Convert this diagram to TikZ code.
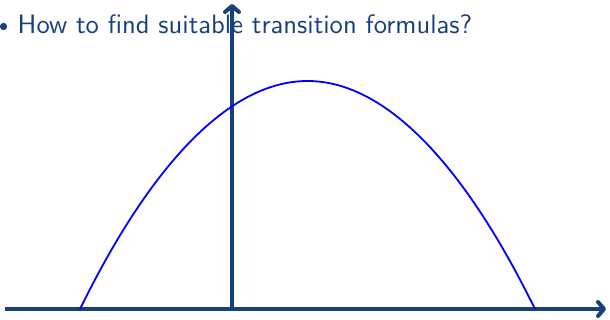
\documentclass[tikz,border=0pt]{standalone}
\usepackage{fontspec}
\usetikzlibrary{arrows.meta}
\newfontfamily\lmten{lmsans10-regular.otf}
\definecolor{navy}{RGB}{24,64,122}
\begin{document}
\begin{tikzpicture}[x=1pt,y=1pt,
  axis/.style={draw=navy,line width=4pt,-{Straight Barb[length=6pt,width=14pt,round]}},
  curve/.style={draw=blue,line width=1.8pt}]
\useasboundingbox (0,0) rectangle (610,320);
\fill[navy] (3.5,293.5) circle (3.6pt);
\node[anchor=base west,inner sep=0pt,text=navy,font=\lmten\fontsize{26.6}{30}\selectfont] (t) at (17.5,286) {How to find suitable transition formulas?};
\coordinate (xs) at (5,11);
\coordinate (xe) at (606,11);
\coordinate (ys) at (232,9);
\coordinate (ye) at (232,316);
\draw[axis] (ys) -- (ye);
\draw[axis] (xs) -- (xe);
\coordinate (l) at (80,11);
\coordinate (v) at (307.5,239);
\coordinate (r) at (535,11);
\draw[curve] (l) parabola bend (v) (r);
\end{tikzpicture}
\end{document}
